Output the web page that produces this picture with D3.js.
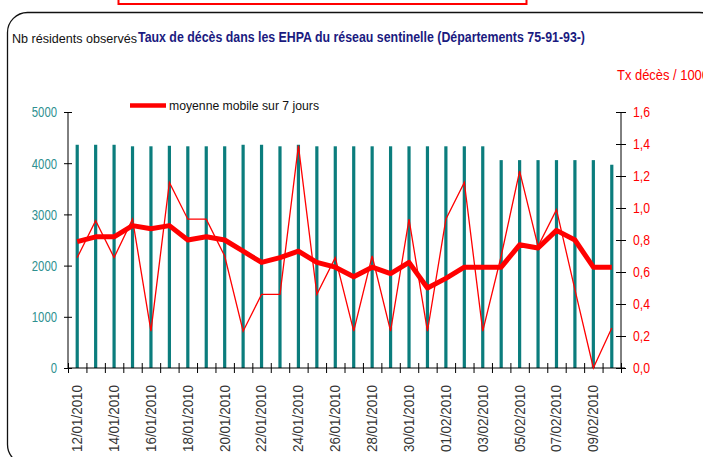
<!DOCTYPE html>
<html>
<head>
<meta charset="utf-8">
<script src="https://cdn.jsdelivr.net/npm/d3@7"></script>
<style>
  body { margin: 0; background: #fff; }
  text { font-family: "Liberation Sans Narrow", "Arial Narrow", "Liberation Sans", Arial, sans-serif; }
</style>
</head>
<body>
<script>
// Dates (one bar per day)
var dates = ["12/01/2010","13/01/2010","14/01/2010","15/01/2010","16/01/2010","17/01/2010",
  "18/01/2010","19/01/2010","20/01/2010","21/01/2010","22/01/2010","23/01/2010","24/01/2010",
  "25/01/2010","26/01/2010","27/01/2010","28/01/2010","29/01/2010","30/01/2010","31/01/2010",
  "01/02/2010","02/02/2010","03/02/2010","04/02/2010","05/02/2010","06/02/2010","07/02/2010",
  "08/02/2010","09/02/2010","10/02/2010"]

// Nb residents observed (left axis)
var residents = [4360,4360,4360,4330,4330,4340,4330,4330,4330,4360,4360,4330,4360,
  4330,4330,4330,4330,4330,4330,4330,4330,4330,4330,
  4060,4060,4060,4060,4060,4060,3970]

// Daily death rate / 1000 (right axis)
var dailyRate = [0.69,0.92,0.69,0.93,0.23,1.16,0.93,0.93,0.70,0.23,0.46,0.46,1.39,0.46,
  0.69,0.23,0.70,0.23,0.93,0.23,0.93,1.16,0.23,0.70,1.23,0.76,0.99,0.49,0.00,0.25]

// 7 day moving average
var movingAvg = [0.79,0.82,0.82,0.89,0.87,0.89,0.80,0.82,0.80,0.73,0.66,0.69,0.73,0.66,
  0.63,0.57,0.63,0.59,0.66,0.50,0.56,0.63,0.63,0.63,0.77,0.75,0.86,0.80,0.63,0.63]

var leftTicks = [0,1000,2000,3000,4000,5000]
var rightTicks = [0,0.2,0.4,0.6,0.8,1.0,1.2,1.4,1.6]

function main() {
    var width = 703, height = 457
    var left = 68, right = 621, top = 112, bottom = 368
    var teal = "#0b7d7d", red = "#ff0000"

    var svg = d3.select('body').append('svg')
        .attr("width", width)
        .attr("height", height)

    // Frames
    svg.append("rect")
        .attr("x", 118.5).attr("y", -10).attr("width", 408).attr("height", 14)
        .attr("fill", "none").attr("stroke", red).attr("stroke-width", 2)
    svg.append("rect")
        .attr("x", 7.5).attr("y", 12.5).attr("width", 712).attr("height", 452)
        .attr("rx", 20).attr("ry", 20)
        .attr("fill", "none").attr("stroke", "#111").attr("stroke-width", 1.3)

    // Scales
    var x = d3.scaleBand().domain(dates).range([left, right])
    var xEdge = d3.scaleLinear().domain([0, dates.length]).range([left, right])
    var yL = d3.scaleLinear().domain([0, 5000]).range([bottom, top])
    var yR = d3.scaleLinear().domain([0, 1.6]).range([bottom, top])

    // Bars
    svg.append("g").selectAll("rect")
        .data(residents)
        .enter().append("rect")
        .attr("x", function (d, i) { return x(dates[i]) + x.bandwidth() / 2 - 1.6 })
        .attr("width", 3.2)
        .attr("y", function (d) { return yL(d) })
        .attr("height", function (d) { return bottom - yL(d) })
        .attr("fill", teal)

    // Left axis
    var gl = svg.append("g")
        .attr("transform", "translate(" + left + ",0)")
        .call(d3.axisLeft(yL).tickValues(leftTicks).tickSize(4).tickFormat(d3.format("d")))
    gl.select(".domain").attr("d", "M0," + top + "V" + bottom).attr("stroke", "#000")
    gl.selectAll(".tick line").attr("x1", -4).attr("x2", 4).attr("stroke", "#000")
    gl.selectAll(".tick text")
        .attr("x", -11).attr("dy", "0.35em")
        .attr("fill", "#2e9090").attr("font-size", 14)
        .attr("textLength", function (d) { return String(d).length * 6.3 })
        .attr("lengthAdjust", "spacingAndGlyphs")
        .style("font-family", null)

    // Right axis
    var gr = svg.append("g")
        .attr("transform", "translate(" + right + ",0)")
        .call(d3.axisRight(yR).tickValues(rightTicks).tickSize(5)
            .tickFormat(function (d) { return d3.format(".1f")(d).replace(".", ",") }))
    gr.select(".domain").attr("d", "M0," + top + "V" + bottom).attr("stroke", "#000")
    gr.selectAll(".tick line").attr("x1", -5).attr("x2", 5).attr("stroke", "#000")
    gr.selectAll(".tick text")
        .attr("x", 12).attr("dy", "0.35em")
        .attr("fill", red).attr("font-size", 14)
        .attr("textLength", 17).attr("lengthAdjust", "spacingAndGlyphs")
        .style("font-family", null)

    // X axis (ticks at day boundaries)
    var gx = svg.append("g")
        .attr("transform", "translate(0," + bottom + ")")
        .call(d3.axisBottom(xEdge).tickValues(d3.range(0, dates.length + 1)).tickSize(5).tickFormat(""))
    gx.select(".domain").attr("d", "M" + left + ",0H" + (right + 4)).attr("stroke", "#000")
    gx.selectAll(".tick line").attr("y1", -5).attr("y2", 5).attr("stroke", "#000")

    // X labels every other day
    svg.append("g").selectAll("text")
        .data(dates.filter(function (d, i) { return i % 2 === 0 }))
        .enter().append("text")
        .attr("transform", function (d) {
            return "translate(" + (x(d) + x.bandwidth() / 2) + ",385) rotate(-90)"
        })
        .attr("text-anchor", "end")
        .attr("dy", "0.35em")
        .attr("font-size", 14)
        .attr("fill", "#333")
        .attr("textLength", 67).attr("lengthAdjust", "spacingAndGlyphs")
        .text(function (d) { return d })

    // Lines
    var cx = function (d, i) { return x(dates[i]) + x.bandwidth() / 2 }
    var thin = d3.line().x(cx).y(function (d) { return yR(d) })
    svg.append("path")
        .attr("d", thin(dailyRate))
        .attr("fill", "none").attr("stroke", red).attr("stroke-width", 1.3)
    svg.append("path")
        .attr("d", thin(movingAvg))
        .attr("fill", "none").attr("stroke", red).attr("stroke-width", 5)
        .attr("stroke-linejoin", "round")

    // Legend
    svg.append("line")
        .attr("x1", 130).attr("x2", 166).attr("y1", 105.5).attr("y2", 105.5)
        .attr("stroke", red).attr("stroke-width", 4.5)
    svg.append("text")
        .attr("x", 169).attr("y", 109.5)
        .attr("font-size", 13).attr("fill", "#111")
        .attr("textLength", 150).attr("lengthAdjust", "spacingAndGlyphs")
        .text("moyenne mobile sur 7 jours")

    // Titles
    svg.append("text")
        .attr("x", 12).attr("y", 43)
        .attr("font-size", 13).attr("fill", "#111")
        .attr("textLength", 125).attr("lengthAdjust", "spacingAndGlyphs")
        .text("Nb résidents observés")
    svg.append("text")
        .attr("x", 138).attr("y", 42)
        .attr("font-size", 15).attr("font-weight", "bold").attr("fill", "#1a1a80")
        .attr("textLength", 447).attr("lengthAdjust", "spacingAndGlyphs")
        .text("Taux de décès dans les EHPA du réseau sentinelle (Départements 75-91-93-)")
    svg.append("text")
        .attr("x", 617).attr("y", 80)
        .attr("font-size", 14).attr("fill", red)
        .attr("textLength", 92).attr("lengthAdjust", "spacingAndGlyphs")
        .text("Tx décès / 1000")
}
main()
</script>
</body>
</html>
